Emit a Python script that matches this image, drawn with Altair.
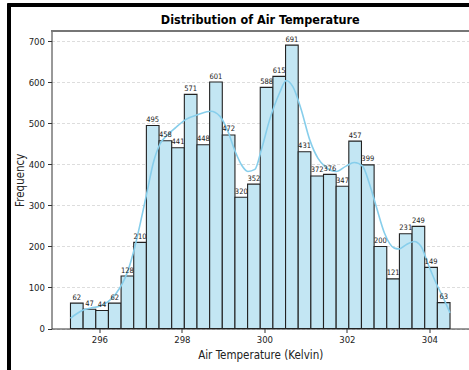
import altair as alt
import pandas as pd

# Histogram of air temperature: 30 equal-width bins between the observed min and max
counts = [62, 47, 44, 62, 128, 210, 495, 458, 441, 571, 448, 601, 472, 320, 352,
          588, 615, 691, 431, 372, 376, 347, 457, 399, 200, 121, 231, 249, 149, 63]
t_min, t_max = 295.3, 304.5

# Kernel density estimate, scaled to counts
kde_temp = [295.30, 295.45, 295.61, 295.80, 296.02, 296.22, 296.40, 296.55, 296.70,
            296.85, 297.00, 297.15, 297.31, 297.47, 297.65, 297.85, 298.10, 298.40,
            298.70, 298.92, 299.10, 299.30, 299.45, 299.60, 299.77, 299.93, 300.13,
            300.37, 300.53, 300.69, 300.89, 301.10, 301.30, 301.46, 301.74, 301.98,
            302.18, 302.38, 302.54, 302.71, 302.91, 303.15, 303.27, 303.43, 303.63,
            303.80, 303.96, 304.16, 304.36, 304.50]
kde_freq = [25, 36, 45, 50, 55, 66, 85, 108, 143, 195, 260, 330, 405, 450, 472, 490,
            510, 522, 530, 518, 485, 430, 398, 383, 388, 437, 510, 575, 605, 590, 535,
            460, 415, 396, 383, 396, 405, 396, 355, 298, 233, 196, 194, 204, 212, 200,
            159, 111, 70, 38]

x_ticks = [296, 298, 300, 302, 304]
y_ticks = [0, 100, 200, 300, 400, 500, 600, 700]

n_bins = len(counts)
bw = (t_max - t_min) / n_bins
bars = pd.DataFrame({
    "lo": [t_min + i * bw for i in range(n_bins)],
    "hi": [t_min + (i + 1) * bw for i in range(n_bins)],
    "count": counts,
    "zero": [0] * n_bins,
})
bars["mid"] = (bars["lo"] + bars["hi"]) / 2
kde = pd.DataFrame({"temp": kde_temp, "freq": kde_freq})

FONT = "DejaVu Sans Condensed, DejaVu Sans"
W, H = 417.5, 297.5

span = t_max - t_min
x_scale = alt.Scale(domain=[t_min - 0.05 * span, t_max + 0.05 * span], nice=False, zero=False)
y_scale = alt.Scale(domain=[0, max(counts) * 1.05], nice=False)

x_axis = alt.Axis(values=x_ticks, format="d", title="Air Temperature (Kelvin)",
                  grid=False, tickSize=4, labelPadding=2, labelFontSize=9.5,
                  titleFontSize=11.5, titleFontWeight="normal", titlePadding=5)
y_axis = alt.Axis(values=y_ticks, format="d", title="Frequency", grid=True,
                  gridDash=[3, 2], gridColor="#cfcfcf", gridWidth=0.7,
                  tickSize=4, labelPadding=3, labelFontSize=9.5,
                  titleFontSize=11.5, titleFontWeight="normal", titlePadding=3)

hist = alt.Chart(bars).mark_rect(
    fill="#c3e6f3", stroke="#222222", strokeWidth=1.1
).encode(
    x=alt.X("lo:Q", scale=x_scale, axis=x_axis),
    x2="hi:Q",
    y=alt.Y("count:Q", scale=y_scale, axis=y_axis),
    y2="zero:Q",
)

labels = alt.Chart(bars).mark_text(
    baseline="bottom", dy=-1.5, fontSize=7.5, font=FONT, color="#222222"
).encode(
    x=alt.X("mid:Q", scale=x_scale),
    y=alt.Y("count:Q", scale=y_scale),
    text=alt.Text("count:Q", format="d"),
)

curve = alt.Chart(kde).mark_line(
    color="#87CEEB", strokeWidth=1.6, interpolate="monotone"
).encode(
    x=alt.X("temp:Q", scale=x_scale),
    y=alt.Y("freq:Q", scale=y_scale),
)

# top spine of the axes box
top_spine = alt.Chart(bars).mark_rule(color="#777777", strokeWidth=1).encode(
    x=alt.value(0), x2=alt.value(W), y=alt.value(0)
)

# outer figure frame
frame = alt.Chart(bars).mark_rect(
    fill=None, stroke="black", strokeWidth=3, clip=False
).encode(
    x=alt.value(-42.2), x2=alt.value(W + 40), y=alt.value(-25.7), y2=alt.value(H + 80)
)

chart = alt.layer(hist, curve, labels, top_spine, frame).properties(
    width=W,
    height=H,
    # the frame extends the layer bounds upward, so the title is pulled back down with dy
    title=alt.TitleParams("Distribution of Air Temperature", fontSize=12.5,
                          fontWeight="bold", font=FONT, anchor="middle",
                          baseline="bottom", offset=0, dy=36, color="black"),
    autosize=alt.AutoSizeParams(type="none"),
    padding={"left": 51.5, "top": 31, "right": 0, "bottom": 41.5},
).configure_view(
    stroke=None
).configure_axis(
    labelFont=FONT, titleFont=FONT, domainColor="#333333", tickColor="#333333",
    labelColor="#222222", titleColor="#222222", domainWidth=1
)

chart.save("out.html", embed_options={"renderer": "svg", "actions": False})
